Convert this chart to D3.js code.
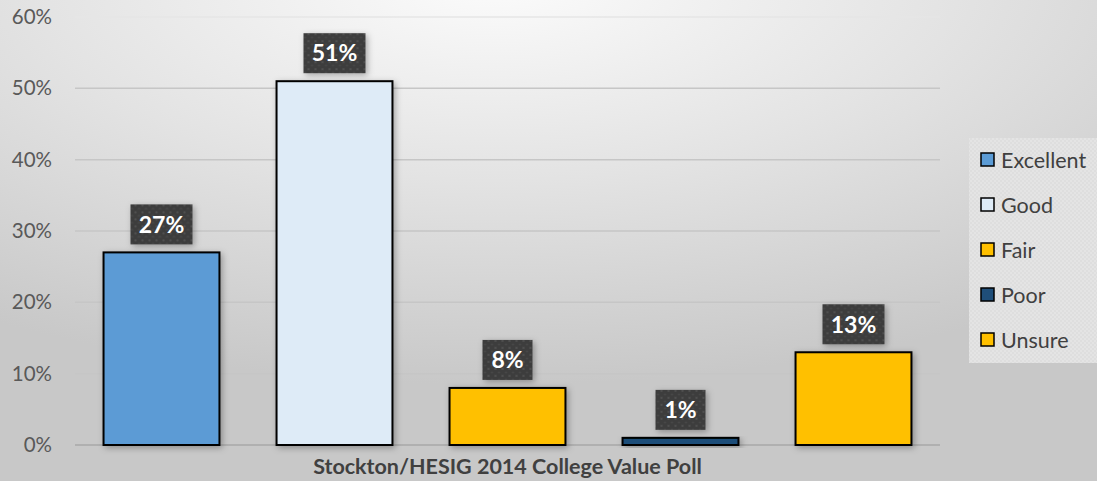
<!DOCTYPE html>
<html>
<head>
<meta charset="utf-8">
<script src="https://cdn.jsdelivr.net/npm/d3@7"></script>
<style>
  html, body { margin: 0; padding: 0; overflow: hidden; }
  svg { display: block; font-family: Lato, "Open Sans", sans-serif; }
</style>
</head>
<body>
<script>
// poll data
var series = ["Excellent", "Good", "Fair", "Poor", "Unsure"];
var values = [27, 51, 8, 1, 13];
var yTicks = [0, 10, 20, 30, 40, 50, 60];
var axisTitle = "Stockton/HESIG 2014 College Value Poll";

var colors = ["#5b9bd5", "#deebf7", "#ffc000", "#1f4e79", "#ffc000"];

var W = 1097, H = 481;
var plot = {left: 75, right: 940, top: 17, bottom: 445};

var svg = d3.select("body").append("svg")
    .attr("width", W)
    .attr("height", H);

var defs = svg.append("defs");

// background gradient
var bg = defs.append("radialGradient")
    .attr("id", "bg")
    .attr("cx", "0.45").attr("cy", "-0.05").attr("r", "0.85");
bg.append("stop").attr("offset", "0").attr("stop-color", "#fcfcfc");
bg.append("stop").attr("offset", "0.5").attr("stop-color", "#e3e3e3");
bg.append("stop").attr("offset", "1").attr("stop-color", "#c8c8c8");

// dotted pattern for the data labels
var dots = defs.append("pattern")
    .attr("id", "dots")
    .attr("width", 7).attr("height", 7)
    .attr("patternUnits", "userSpaceOnUse");
dots.append("rect").attr("width", 7).attr("height", 7).attr("fill", "#3e3e3e");
dots.append("circle").attr("cx", 2).attr("cy", 2).attr("r", 1).attr("fill", "#545454");
dots.append("circle").attr("cx", 5.5).attr("cy", 5.5).attr("r", 0.8).attr("fill", "#4c4c4c");

// fine texture for the legend box
var tex = defs.append("pattern")
    .attr("id", "tex")
    .attr("width", 4).attr("height", 4)
    .attr("patternUnits", "userSpaceOnUse");
tex.append("rect").attr("width", 4).attr("height", 4).attr("fill", "#e4e4e4");
tex.append("rect").attr("width", 2).attr("height", 2).attr("fill", "#dedede");
tex.append("rect").attr("x", 2).attr("y", 2).attr("width", 2).attr("height", 2).attr("fill", "#dedede");

// soft shadow
var sh = defs.append("filter").attr("id", "shadow")
    .attr("x", "-20%").attr("y", "-20%").attr("width", "150%").attr("height", "150%");
sh.append("feDropShadow")
    .attr("dx", 2).attr("dy", 2).attr("stdDeviation", 3)
    .attr("flood-color", "#000").attr("flood-opacity", 0.3);

svg.append("rect")
    .attr("width", W).attr("height", H)
    .attr("fill", "url(#bg)");

// scales
var x = d3.scaleBand()
    .domain(series)
    .range([plot.left, plot.right])
    .paddingInner(0.33)
    .paddingOuter(0.165);

var y = d3.scaleLinear()
    .domain([0, 60])
    .range([plot.bottom, plot.top]);

// gridlines
svg.append("g").selectAll("line")
    .data(yTicks)
    .enter().append("line")
    .attr("x1", plot.left).attr("x2", plot.right)
    .attr("y1", function(d) { return y(d); })
    .attr("y2", function(d) { return y(d); })
    .attr("stroke", function(d) { return d === 0 ? "#a8a8a8" : (d === 60 ? "#e6e6e6" : "#c6c6c6"); })
    .attr("stroke-width", 1.5);

// y axis
var yAxis = svg.append("g")
    .attr("transform", "translate(" + (plot.left - 23) + ",0)")
    .call(d3.axisLeft(y).tickValues(yTicks)
        .tickFormat(function(d) { return d + "%"; })
        .tickSize(0).tickPadding(0));
yAxis.select(".domain").remove();
yAxis.selectAll("text")
    .attr("fill", "#595959")
    .attr("font-size", "20.5px")
    .attr("font-family", "Lato, 'Open Sans', sans-serif");

// bars
var rows = series.map(function(s, i) { return {name: s, value: values[i], color: colors[i]}; });

svg.append("g").selectAll("rect")
    .data(rows)
    .enter().append("rect")
    .attr("x", function(d) { return x(d.name); })
    .attr("y", function(d) { return y(d.value); })
    .attr("width", x.bandwidth())
    .attr("height", function(d) { return y(0) - y(d.value); })
    .attr("fill", function(d) { return d.color; })
    .attr("stroke", "#000")
    .attr("stroke-width", 2)
    .attr("filter", "url(#shadow)");

// data labels
var labels = svg.append("g").selectAll("g")
    .data(rows)
    .enter().append("g")
    .attr("transform", function(d) {
        return "translate(" + (x(d.name) + x.bandwidth() / 2) + "," + (y(d.value) - 28) + ")";
    });

labels.append("rect")
    .attr("x", function(d) { return d.value >= 10 ? -31 : -25; })
    .attr("y", -20)
    .attr("width", function(d) { return d.value >= 10 ? 62 : 50; })
    .attr("height", 40)
    .attr("fill", "url(#dots)")
    .attr("filter", "url(#shadow)");

labels.append("text")
    .attr("text-anchor", "middle")
    .attr("dy", "0.36em")
    .attr("fill", "#fff")
    .attr("font-weight", "bold")
    .attr("font-size", "23px")
    .text(function(d) { return d.value + "%"; });

// axis title
svg.append("text")
    .attr("x", (plot.left + plot.right) / 2)
    .attr("y", 474)
    .attr("text-anchor", "middle")
    .attr("fill", "#404040")
    .attr("font-weight", "bold")
    .attr("font-size", "21.5px")
    .text(axisTitle);

// legend
svg.append("rect")
    .attr("x", 969).attr("y", 138)
    .attr("width", W - 969).attr("height", 225)
    .attr("fill", "url(#tex)");

var legend = svg.append("g").selectAll("g")
    .data(rows)
    .enter().append("g")
    .attr("transform", function(d, i) { return "translate(981," + (160 + i * 45) + ")"; });

legend.append("rect")
    .attr("x", 0).attr("y", -7)
    .attr("width", 13).attr("height", 13)
    .attr("fill", function(d) { return d.color; })
    .attr("stroke", "#000")
    .attr("stroke-width", 1.5);

legend.append("text")
    .attr("x", 20)
    .attr("dy", "0.36em")
    .attr("fill", "#404040")
    .attr("font-size", "21.5px")
    .text(function(d) { return d.name; });
</script>
</body>
</html>
